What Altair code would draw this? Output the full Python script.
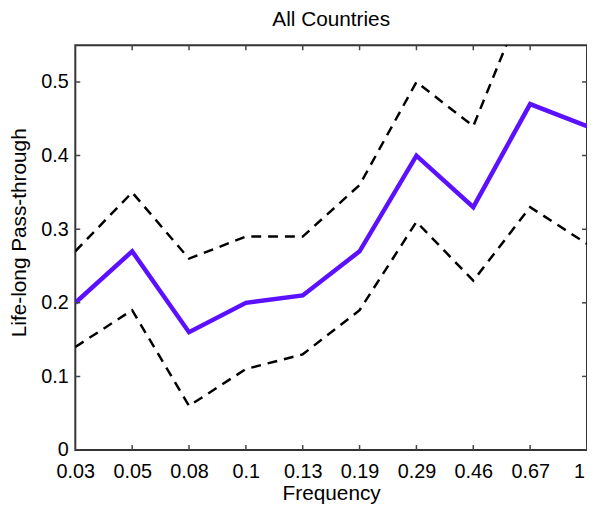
import altair as alt
import pandas as pd

freq_labels = ["0.03", "0.05", "0.08", "0.1", "0.13", "0.19", "0.29", "0.46", "0.67", "1"]
mid = [0.20, 0.27, 0.16, 0.20, 0.21, 0.27, 0.40, 0.33, 0.47, 0.44]
upper = [0.27, 0.35, 0.26, 0.29, 0.29, 0.36, 0.50, 0.44, 0.63, 0.60]
lower = [0.14, 0.19, 0.06, 0.11, 0.13, 0.19, 0.31, 0.23, 0.33, 0.28]
yticks = [0, 0.1, 0.2, 0.3, 0.4, 0.5]

W, H = 517, 409
FONT = "Liberation Sans"

df = pd.DataFrame({"freq": freq_labels, "mid": mid, "upper": upper, "lower": lower})
dft = pd.DataFrame({"v": yticks})

xaxis = alt.Axis(title="Frequency", labelFont=FONT, labelFontSize=20, labelColor="black",
                 labelAngle=0, ticks=False, tickSize=0, domain=False, grid=False,
                 labelPadding=12, labelOverlap=False, titleFont=FONT, titleFontSize=21,
                 titleFontWeight="normal", titleColor="black", titleY=33,
                 labelOffset={"condition": {"test": "datum.value == '1'", "value": -8}, "value": 0})
yaxis = alt.Axis(title="Life-long Pass-through", values=yticks, format="~g", labelFont=FONT,
                 labelFontSize=20, labelColor="black", ticks=False, tickSize=0, domain=False,
                 grid=False, labelPadding=7, titleFont=FONT, titleFontSize=21,
                 titleFontWeight="normal", titleColor="black", titleX=-46, titleY=189,
                 titleBaseline="bottom")

xscale = alt.Scale(type="point", padding=0)
yscale = alt.Scale(domain=[0, 0.55], nice=False, zero=True)


def X():
    return alt.X("freq:O", sort=freq_labels, scale=xscale, axis=xaxis)


def Y(field):
    return alt.Y(field, type="quantitative", scale=yscale, axis=yaxis)


base = alt.Chart(df)
upper_line = base.mark_line(color="black", strokeWidth=2.5, strokeDash=[10, 7], clip=True).encode(
    x=X(), y=Y("upper"))
lower_line = base.mark_line(color="black", strokeWidth=2.5, strokeDash=[10, 7], clip=True).encode(
    x=X(), y=Y("lower"))
mid_line = base.mark_line(color="#5b10ff", strokeWidth=4.5, clip=True).encode(
    x=X(), y=Y("mid"))

tick_color = "#444"
TL = 10
vtick = dict(orient="vertical", size=TL, thickness=1.5, color=tick_color, clip=True, opacity=1)
htick = dict(orient="horizontal", size=TL, thickness=1.5, color=tick_color, clip=True, opacity=1)
bottom_ticks = base.mark_tick(**vtick).encode(x=X(), y=alt.value(H))
top_ticks = base.mark_tick(**vtick).encode(x=X(), y=alt.value(0))
left_ticks = alt.Chart(dft).mark_tick(**htick).encode(y=Y("v"), x=alt.value(0))
right_ticks = alt.Chart(dft).mark_tick(**htick).encode(y=Y("v"), x=alt.value(W))

chart = alt.layer(
    upper_line, lower_line, mid_line, bottom_ticks, top_ticks, left_ticks, right_ticks
).properties(
    width=W, height=H,
    title=alt.TitleParams("All Countries", font=FONT, fontSize=21, fontWeight="normal",
                          color="black", offset=15),
    autosize=alt.AutoSizeParams(type="none"),
    padding={"left": 68, "top": 35, "right": 0, "bottom": 56},
).configure_view(stroke="#333", strokeWidth=2)

chart.save("out.html", embed_options={"renderer": "svg", "actions": False})
